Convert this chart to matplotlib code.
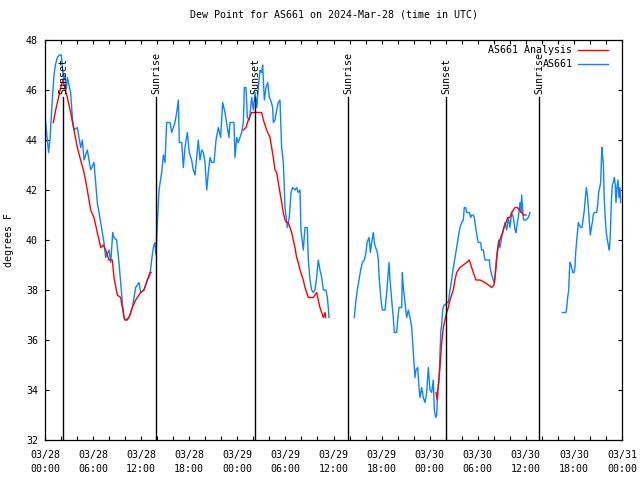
import numpy as np
import pandas as pd
import matplotlib

matplotlib.use("Agg")
import matplotlib.pyplot as plt
import matplotlib.dates as mdates

START = pd.Timestamp("2024-03-28 00:00")

# hours after 03/28 00:00 UTC, dew point in degrees F
obs1_hours = [0.0, 0.2, 0.45, 0.62, 0.8, 0.91, 1.12, 1.3, 1.54, 1.8, 2.04, 2.2, 2.37, 2.5, 2.65,
              2.79, 3.0, 3.2, 3.41, 3.62, 4.03, 4.45, 4.66, 4.87, 5.28, 5.7, 6.11, 6.32, 6.53,
              6.95, 7.36, 7.57, 7.99, 8.2, 8.45, 8.61, 8.94, 9.23, 9.44, 9.65, 9.86, 10.07,
              10.48, 10.9, 11.31, 11.73, 11.94, 12.35, 12.77, 13.1, 13.31, 13.52, 13.7, 13.85,
              14.02, 14.23, 14.56, 14.77, 14.97, 15.18, 15.6, 15.81, 16.22, 16.43, 16.64, 16.76,
              17.06, 17.26, 17.47, 17.76, 18.0, 18.3, 18.5, 18.72, 18.93, 19.13, 19.34, 19.55,
              19.76, 19.97, 20.18, 20.38, 20.59, 20.8, 21.09, 21.34, 21.63, 21.92, 22.17, 22.46,
              22.75, 22.96, 23.08, 23.58, 23.71, 23.92, 24.12, 24.33, 24.54, 24.75, 24.87, 25.08,
              25.25, 25.5, 25.79, 26.0, 26.2, 26.42, 26.62, 26.83, 27.04, 27.16, 27.37, 27.58,
              27.79, 27.99, 28.16, 28.41, 28.49, 28.7, 28.91, 29.11, 29.32, 29.41, 29.53, 29.74,
              29.95, 30.24, 30.48, 30.7, 30.9, 31.2, 31.4, 31.6, 31.82, 31.94, 32.23, 32.44,
              32.73, 32.86, 33.07, 33.27, 33.48, 33.69, 33.9, 34.1, 34.31, 34.53, 34.73, 35.06,
              35.23, 35.35, 35.44]
obs1_dewpt = [45.0, 44.3, 43.5, 44.0, 45.0, 45.6, 46.6, 47.0, 47.3, 47.4, 47.4, 46.8, 46.4, 46.6, 46.0,
              46.5, 46.2, 45.9, 44.9, 44.4, 44.5, 43.7, 44.0, 43.2, 43.6, 42.8, 43.1, 42.3, 41.5,
              40.7, 39.9, 39.3, 39.6, 39.1, 40.3, 40.1, 40.0, 39.1, 38.3, 37.5, 36.9, 36.8,
              36.9, 37.3, 38.1, 38.3, 37.9, 38.0, 38.4, 38.6, 39.2, 39.7, 39.9, 39.4,
              40.7, 42.0, 42.7, 43.4, 43.1, 44.7, 44.7, 44.3, 44.7, 45.1, 45.6, 43.9,
              43.9, 42.9, 43.7, 44.3, 43.5, 43.2, 42.8, 42.6, 43.3, 44.0, 43.2, 43.6,
              43.5, 43.1, 42.0, 42.7, 43.3, 43.1, 43.1, 44.0, 44.5, 44.1, 45.5, 45.1,
              44.5, 44.1, 44.7, 44.7, 43.3, 44.1, 43.9, 44.1, 44.3, 44.7, 46.1, 46.1,
              44.9, 44.8, 45.7, 45.2, 45.9, 45.3, 46.1, 46.8, 46.7, 47.0, 45.6, 46.1,
              46.3, 45.7, 45.6, 45.3, 44.7, 44.8, 45.2, 45.5, 45.6, 44.8, 43.7, 43.1,
              41.3, 40.5, 40.9, 41.9, 42.1, 42.0, 42.1, 41.9, 42.0, 40.4, 39.6, 40.5,
              40.5, 39.2, 38.4, 38.0, 37.9, 38.0, 38.5, 39.2, 38.8, 38.5, 38.0, 38.0,
              37.7, 37.3, 36.9]

obs2_hours = [38.6, 38.77, 38.97, 39.18, 39.39, 39.6, 39.85, 40.06, 40.18, 40.43, 40.6, 40.76, 40.97,
              41.09, 41.26, 41.47, 41.59, 41.72, 41.93, 42.09, 42.43, 42.64, 42.76, 42.93, 43.05,
              43.26, 43.46, 43.59, 43.88, 44.01, 44.17, 44.51, 44.59, 44.71, 44.92, 45.13, 45.34,
              45.55, 45.76, 45.96, 46.17, 46.29, 46.51, 46.67, 46.79, 47.0, 47.2, 47.42, 47.63,
              47.83, 48.04, 48.25, 48.45, 48.58, 48.75, 48.88, 49.0, 49.16, 49.29, 49.4, 49.5,
              49.62, 49.79, 49.95, 50.12, 50.33, 50.54, 50.74, 50.95, 51.16, 51.37, 51.57, 51.78,
              52.0, 52.2, 52.32, 52.49, 52.62, 52.95, 53.12, 53.24, 53.45, 53.57, 53.74, 53.94,
              54.07, 54.36, 54.49, 54.7, 54.9, 55.2, 55.45, 55.53, 55.74, 55.94, 56.07, 56.2,
              56.28, 56.45, 56.61, 56.78, 56.98, 57.19, 57.4, 57.61, 57.82, 58.02, 58.23, 58.44,
              58.65, 58.77, 58.94, 59.06, 59.27, 59.4, 59.48, 59.6, 59.73, 60.02, 60.31, 60.52]
obs2_dewpt = [36.9, 37.5, 38.0, 38.4, 38.8, 39.1, 39.2, 39.5, 39.9, 40.1, 39.5, 39.9, 40.3,
              39.9, 39.7, 39.5, 39.2, 38.4, 37.6, 37.2, 37.2, 37.9, 38.4, 39.1, 38.4,
              37.6, 36.9, 36.3, 36.3, 36.8, 37.3, 37.3, 38.7, 38.1, 37.5, 36.9, 37.2,
              36.9, 36.5, 35.5, 34.5, 34.8, 34.9, 34.1, 33.7, 34.1, 33.7, 33.5, 33.9,
              34.9, 34.0, 33.9, 34.4, 33.2, 32.9, 33.0, 34.0, 34.3, 35.5, 36.4, 36.6,
              37.2, 37.4, 37.4, 37.5, 37.5, 38.0, 38.4, 38.9, 39.3, 39.7, 40.1, 40.5,
              40.7, 40.8, 41.3, 41.3, 41.1, 41.1, 40.9, 41.0, 41.0, 40.9, 40.5, 40.1,
              39.9, 39.9, 39.6, 39.6, 39.2, 39.2, 39.2, 38.9, 38.6, 38.4, 38.3, 38.7,
              39.1, 39.6, 40.0, 39.7, 40.1, 40.4, 40.7, 40.4, 40.9, 40.5, 41.1, 40.9,
              40.4, 40.3, 40.7, 40.9, 41.5, 41.1, 41.8, 41.2, 40.8, 40.8, 40.9, 41.1]

obs3_hours = [64.55, 65.01, 65.1, 65.22, 65.35, 65.43, 65.51, 65.64, 65.72, 65.85, 66.01, 66.13,
              66.22, 66.35, 66.47, 66.55, 66.68, 66.85, 67.01, 67.18, 67.3, 67.43, 67.55, 67.68,
              67.8, 67.93, 68.05, 68.18, 68.3, 68.42, 68.55, 68.84, 68.97, 69.09, 69.22, 69.34,
              69.42, 69.5, 69.59, 69.67, 69.79, 69.92, 70.04, 70.17, 70.29, 70.42, 70.54, 70.67,
              70.79, 70.91, 71.04, 71.16, 71.25, 71.37, 71.5, 71.62, 71.75, 71.83]
obs3_dewpt = [37.1, 37.1, 37.3, 37.7, 38.0, 38.7, 39.1, 39.0, 38.9, 38.7, 38.7, 38.9,
              39.5, 40.0, 40.4, 40.7, 40.6, 40.5, 40.5, 40.9, 41.2, 41.7, 42.1, 41.8,
              41.3, 40.7, 40.2, 40.5, 40.7, 41.0, 41.1, 41.1, 41.4, 41.9, 42.1, 42.3,
              43.1, 43.7, 43.3, 43.1, 41.6, 40.8, 40.3, 40.0, 39.8, 39.6, 40.2, 41.5,
              42.2, 42.3, 42.5, 42.2, 41.5, 42.1, 42.4, 41.7, 42.1, 41.5]

ana1_hours = [1.04, 1.33, 1.62, 1.95, 2.25, 2.45, 2.79, 3.2, 3.62, 4.03, 4.45, 4.87, 5.28, 5.7,
              6.11, 6.53, 6.95, 7.28, 7.57, 7.99, 8.4, 8.61, 9.03, 9.44, 9.65, 9.94, 10.27,
              10.61, 10.9, 11.31, 11.94, 12.35, 12.77, 13.1, 13.25]
ana1_dewpt = [44.7, 45.2, 45.6, 46.1, 46.4, 46.1, 45.7, 45.1, 44.4, 43.7, 43.2, 42.7, 42.0, 41.2,
              40.9, 40.3, 39.7, 39.8, 39.6, 39.2, 39.2, 38.5, 37.8, 37.7, 37.3, 36.8, 36.8,
              37.0, 37.3, 37.6, 37.9, 38.0, 38.4, 38.7, 38.7]

ana2_hours = [24.75, 25.08, 25.37, 25.79, 26.42, 27.04, 27.25, 27.66, 28.08, 28.28, 28.49, 28.7,
              28.91, 29.11, 29.32, 29.53, 29.74, 29.95, 30.15, 30.36, 30.57, 30.78, 30.98, 31.19,
              31.4, 31.6, 31.82, 32.03, 32.23, 32.44, 32.65, 32.86, 33.07, 33.48, 33.9, 34.1,
              34.31, 34.53, 34.73, 34.94, 35.02]
ana2_dewpt = [44.4, 44.5, 44.8, 45.1, 45.1, 45.1, 44.8, 44.4, 44.1, 43.7, 43.3, 42.8,
              42.7, 42.3, 41.9, 41.5, 41.1, 40.8, 40.7, 40.7, 40.5, 40.3, 40.0, 39.7,
              39.3, 39.1, 38.8, 38.6, 38.4, 38.1, 37.9, 37.7, 37.7, 37.7, 37.9, 37.6,
              37.3, 37.1, 36.9, 37.1, 36.9]

ana3_hours = [48.79, 48.95, 49.1, 49.29, 49.45, 49.7, 49.91, 50.12, 50.33, 50.54, 50.74, 50.95,
              51.16, 51.37, 51.57, 51.78, 52.2, 52.62, 52.95, 53.24, 53.45, 53.78, 54.28, 54.9,
              55.32, 55.74, 56.03, 56.15, 56.28, 56.45, 56.65, 56.86, 57.11, 57.27, 57.52, 57.73,
              58.02, 58.23, 58.44, 58.65, 58.94, 59.18, 59.48, 59.68, 60.02]
ana3_dewpt = [33.9, 33.6, 34.3, 34.9, 35.7, 36.5, 36.8, 37.1, 37.3, 37.6, 37.8, 38.0,
              38.4, 38.7, 38.8, 38.9, 39.0, 39.1, 39.2, 38.9, 38.7, 38.4, 38.4, 38.3,
              38.2, 38.1, 38.2, 38.5, 38.9, 39.5, 39.9, 40.1, 40.3, 40.5, 40.7, 40.9,
              40.9, 41.1, 41.2, 41.3, 41.3, 41.2, 41.1, 41.0, 41.0]

sun_labels = ["Sunset", "Sunrise", "Sunset", "Sunrise", "Sunset", "Sunrise"]
sun_hours = [2.27, 13.85, 26.25, 37.85, 50.05, 61.7]

MONO = "DejaVu Sans Mono"
FS = 7.2
BLUE = "#0a84ff"
RED = "#ff0000"


def to_time(hours):
    return START + pd.to_timedelta(np.asarray(hours, dtype=float), unit="h")


fig = plt.figure(figsize=(6.4, 4.8), dpi=100, facecolor="white")
ax = fig.add_axes([45 / 640, 40 / 480, 577 / 640, 400 / 480])

for i, (hrs, vals) in enumerate([(ana1_hours, ana1_dewpt), (ana2_hours, ana2_dewpt),
                                 (ana3_hours, ana3_dewpt)]):
    ax.plot(to_time(hrs), vals, color=RED, linewidth=1.0,
            label="AS661 Analysis" if i == 0 else None, zorder=3)
for i, (hrs, vals) in enumerate([(obs1_hours, obs1_dewpt), (obs2_hours, obs2_dewpt),
                                 (obs3_hours, obs3_dewpt)]):
    ax.plot(to_time(hrs), vals, color=BLUE, linewidth=1.0,
            label="AS661" if i == 0 else None, zorder=2)

for label, hr in zip(sun_labels, sun_hours):
    t = to_time([hr])[0]
    ax.plot([t, t], [32, 45.7], color="black", linewidth=1.0, zorder=4)
    ax.text(t, 45.85, label, rotation=90, ha="center", va="bottom",
            fontsize=FS, family=MONO, zorder=5)

ax.set_xlim(to_time([0])[0], to_time([72])[0])
ax.set_ylim(32, 48)
ax.set_yticks(np.arange(32, 49, 2))
ax.xaxis.set_major_locator(mdates.HourLocator(byhour=range(0, 24, 6)))
ax.xaxis.set_minor_locator(mdates.HourLocator(byhour=range(0, 24, 2)))
ax.xaxis.set_major_formatter(mdates.DateFormatter("%m/%d\n%H:%M"))
ax.tick_params(axis="both", which="both", direction="in", top=True, right=True,
               length=3.2, width=0.8, labelsize=FS, pad=7)
ax.tick_params(axis="y", pad=5)
for lbl in ax.get_xticklabels():
    lbl.set_family(MONO)
    lbl.set_linespacing(1.55)
for lbl in ax.get_yticklabels():
    lbl.set_family(MONO)
for spine in ax.spines.values():
    spine.set_linewidth(0.9)

ax.set_ylabel("degrees F", fontsize=FS, family=MONO, labelpad=9)
ax.set_title("Dew Point for AS661 on 2024-Mar-28 (time in UTC)",
             fontsize=FS, family=MONO, pad=16)

leg = ax.legend(loc="upper right", bbox_to_anchor=(0.986, 1.0), frameon=False,
                markerfirst=False, handlelength=3.0, handletextpad=0.6,
                labelspacing=0.4, borderaxespad=0.25, borderpad=0.3,
                prop={"family": MONO, "size": FS})

fig.savefig("out.png", dpi=100, facecolor="white")
